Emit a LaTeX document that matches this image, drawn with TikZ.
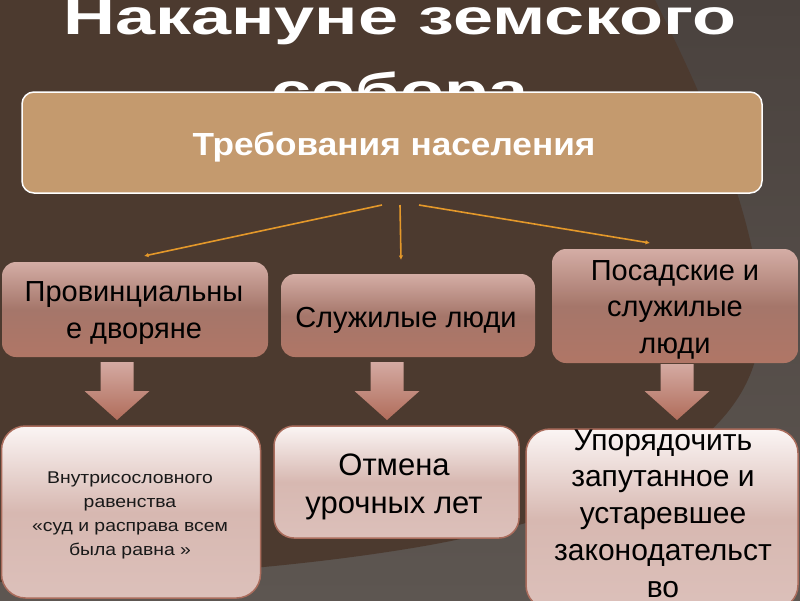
\documentclass[tikz,border=0pt]{standalone}
\usepackage{fontspec}
\setmainfont{Liberation Sans}
\usetikzlibrary{arrows.meta}
\definecolor{bgbrown}{RGB}{76,58,47}
\definecolor{bggraytop}{RGB}{74,66,62}
\definecolor{bggraybot}{RGB}{93,86,81}
\definecolor{topfill}{RGB}{196,154,110}
\definecolor{conncol}{RGB}{228,152,42}
\definecolor{midtop}{RGB}{212,173,165}
\definecolor{midmid}{RGB}{165,118,106}
\definecolor{midbot}{RGB}{176,118,102}
\definecolor{bottop}{RGB}{251,245,244}
\definecolor{botmid}{RGB}{215,184,177}
\definecolor{botbot}{RGB}{220,192,186}
\definecolor{botedge}{RGB}{170,108,92}
\definecolor{arrtop}{RGB}{212,170,162}
\definecolor{arrbot}{RGB}{176,108,90}
\newcommand{\sx}[1]{\scalebox{1.14}[1]{#1}}
\newcommand{\tx}[1]{\scalebox{1.44}[1]{#1}}
\tikzset{
  topbox/.style={draw=white, line width=1.5pt, fill=topfill, rounded corners=12pt, inner sep=0pt, minimum width=740pt, minimum height=101pt},
  midbox/.style={rounded corners=14pt, inner sep=0pt, top color=midtop, bottom color=midbot, middle color=midmid},
  botbox/.style={draw=botedge, line width=1.5pt, rounded corners=24pt, inner sep=0pt, top color=bottop, bottom color=botbot, middle color=botmid},
  ttltxt/.style={anchor=base, align=center, inner sep=0pt, text=white, font=\fontsize{50}{74}\selectfont\bfseries},
  toptxt/.style={anchor=base, align=center, inner sep=0pt, text=white, font=\fontsize{32}{38}\selectfont\bfseries},
  midtxt/.style={anchor=base, align=center, inner sep=0pt, text=black, font=\fontsize{29}{36.5}\selectfont},
  bigtxt/.style={anchor=base, align=center, inner sep=0pt, text=black, font=\fontsize{31}{38}\selectfont},
  smalltxt/.style={anchor=base, align=center, inner sep=0pt, text=black!90, font=\fontsize{17}{23.7}\selectfont},
  conn/.style={draw=conncol, line width=1.6pt, -{Latex[length=4.5pt,width=4.5pt]}},
  blockarr/.style={top color=arrtop, bottom color=arrbot}
}
\begin{document}
\begin{tikzpicture}[x=1pt,y=-1pt]
\useasboundingbox (0,0) rectangle (800,600);
\clip (0,0) rectangle (800,600);
% background
\shade[top color=bggraytop, bottom color=bggraybot] (0,0) rectangle (800,600);
\fill[bgbrown] (0,0) -- (655,0) .. controls (700,90) and (765,230) .. (760,330)
   .. controls (755,440) and (620,510) .. (430,545)
   .. controls (300,568) and (150,578) .. (0,582) -- cycle;
% title (anchor base = baseline of last line)
\node[ttltxt] (title) at (400,108) {\tx{Накануне земского}\\\tx{собора}};
% top box
\node[topbox] (top) at (392,142.5) {};
\node[toptxt] (topt) at (394,155) {\scalebox{1.1}[1]{Требования населения}};
% middle boxes
\node[midbox, minimum width=266pt, minimum height=95pt] (m1) at (135,309.5) {};
\node[midbox, minimum width=254pt, minimum height=83pt] (m2) at (408,315.5) {};
\node[midbox, minimum width=246pt, minimum height=114pt] (m3) at (675,306) {};
\node[midtxt] (m1t) at (134,338) {Провинциальны\\е дворяне};
\node[midtxt] (m2t) at (406,327) {Служилые люди};
\node[midtxt] (m3t) at (675,353) {Посадские и\\служилые\\люди};
% connectors
\coordinate (s1) at (382,205);
\coordinate (s2) at (400,205);
\coordinate (s3) at (419,205);
\coordinate (e1) at (144,256);
\coordinate (e2) at (401,260);
\coordinate (e3) at (650,243);
\draw[conn] (s1) -- (e1);
\draw[conn] (s2) -- (e2);
\draw[conn] (s3) -- (e3);
% block arrows
\foreach \cx/\ty in {117/362, 387/362, 677/364}{
  \shade[blockarr] (\cx-16.5,\ty) -- (\cx+16.5,\ty) -- (\cx+16.5,391) -- (\cx+32.5,391)
     -- (\cx,420) -- (\cx-32.5,391) -- (\cx-16.5,391) -- cycle;
}
% bottom boxes
\node[botbox, minimum width=259pt, minimum height=172pt] (b1) at (131,512) {};
\node[botbox, rounded corners=20pt, minimum width=245pt, minimum height=112pt] (b2) at (396.5,482) {};
\node[botbox, minimum width=272pt, minimum height=180pt] (b3) at (662,519) {};
\node[smalltxt] (b1t) at (130,555) {\sx{Внутрисословного}\\\sx{равенства}\\\sx{«суд и расправа всем}\\\sx{была равна »}};
\node[bigtxt] (b2t) at (394,513) {Отмена\\урочных лет};
\node[bigtxt, font=\fontsize{30}{36.7}\selectfont] (b3t) at (663,597) {Упорядочить\\запутанное и\\устаревшее\\законодательст\\во};
\end{tikzpicture}
\end{document}
